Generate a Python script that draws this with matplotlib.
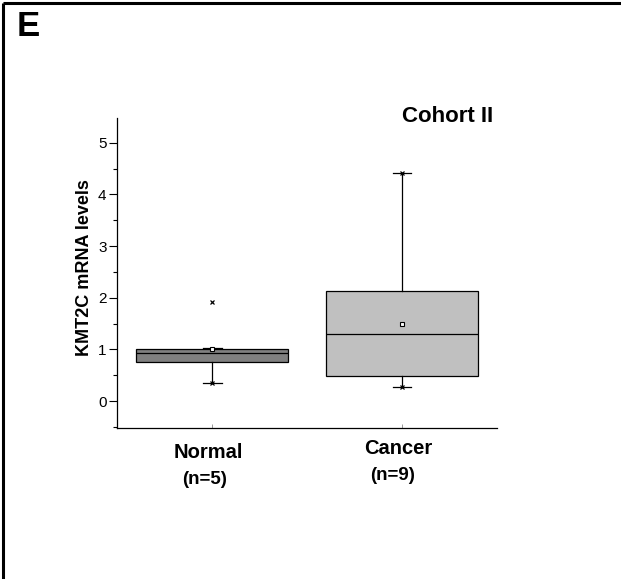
import matplotlib
matplotlib.use("Agg")
import matplotlib.pyplot as plt
from matplotlib.lines import Line2D
from matplotlib.ticker import MultipleLocator
import matplotlib.transforms as mtransforms

plt.rcParams['font.family'] = ['Liberation Sans', 'DejaVu Sans']

# Box-plot summary statistics for KMT2C mRNA levels
groups = ["Normal", "Cancer"]
group_n = ["(n=5)", "(n=9)"]
q1 = [0.75, 0.49]
median = [0.94, 1.30]
q3 = [1.01, 2.14]
whisker_low = [0.35, 0.28]
whisker_high = [1.02, 4.41]
means = [1.00, 1.50]
minima = [0.35, 0.28]
maxima = [1.91, 4.41]
box_colors = ["#808080", "#c0c0c0"]

fig = plt.figure(figsize=(6.21, 5.79), dpi=100)
ax = fig.add_axes([117 / 621, 151 / 579, 380 / 621, 310 / 579])

positions = [1, 2]
stats = []
for i in range(len(groups)):
    stats.append(dict(label=groups[i], q1=q1[i], med=median[i], q3=q3[i],
                      whislo=whisker_low[i], whishi=whisker_high[i],
                      mean=means[i], fliers=[]))

bp = ax.bxp(stats, positions=positions, widths=0.8, capwidths=0.1,
            patch_artist=True, showfliers=False, showmeans=True,
            boxprops=dict(linewidth=0.9, edgecolor="black"),
            medianprops=dict(color="black", linewidth=0.9),
            whiskerprops=dict(color="black", linewidth=0.9),
            capprops=dict(color="black", linewidth=0.9),
            meanprops=dict(marker="s", markersize=3.2, markerfacecolor="white",
                           markeredgecolor="black", markeredgewidth=0.8))
for patch, c in zip(bp["boxes"], box_colors):
    patch.set_facecolor(c)

# minimum / maximum markers
ax.plot(positions, minima, linestyle="none", marker="x", color="black",
        markersize=3.5, markeredgewidth=0.9)
ax.plot(positions, maxima, linestyle="none", marker="x", color="black",
        markersize=3.5, markeredgewidth=0.9)

ax.set_xlim(0.5, 2.5)
ax.set_ylim(-0.52, 5.48)
ax.yaxis.set_major_locator(MultipleLocator(1))
ax.yaxis.set_minor_locator(MultipleLocator(0.5))
ax.tick_params(axis="y", which="major", direction="out", length=6, width=0.8,
               labelsize=11, pad=1.5)
ax.tick_params(axis="y", which="minor", direction="out", length=3, width=0.8)
ax.set_xticks(positions)
ax.set_xticklabels([])
ax.tick_params(axis="x", which="major", direction="in", length=3, width=0.6,
               color="#888888")
for s in ("top", "right"):
    ax.spines[s].set_visible(False)
for s in ("left", "bottom"):
    ax.spines[s].set_linewidth(0.9)

ax.set_ylabel("KMT2C mRNA levels", fontsize=13, fontweight="bold")
ax.yaxis.set_label_coords(-0.062, 0.518)

# category labels below the axis
trans = mtransforms.blended_transform_factory(ax.transData, fig.transFigure)
name_x = [0.98, 1.98]
name_y = [(579 - 452) / 579, (579 - 448) / 579]
n_x = [0.96, 1.95]
n_y = [(579 - 479) / 579, (579 - 476) / 579]
for i in range(len(groups)):
    ax.text(name_x[i], name_y[i], groups[i], transform=trans, ha="center",
            va="center", fontsize=14.5, fontweight="bold")
    ax.text(n_x[i], n_y[i], group_n[i], transform=trans, ha="center",
            va="center", fontsize=13.5, fontweight="bold")

fig.text(493 / 621, (579 - 122) / 579, "Cohort II", ha="right", va="baseline",
         fontsize=16, fontweight="bold")
fig.text(17 / 621, (579 - 36) / 579, "E", ha="left", va="baseline",
         fontsize=25, fontweight="bold")

# panel frame (top and left edges)
fig.add_artist(Line2D([2.5 / 621, 1.0], [1 - 3 / 579, 1 - 3 / 579],
                      transform=fig.transFigure, color="black", linewidth=2.2,
                      solid_capstyle="butt"))
fig.add_artist(Line2D([2.5 / 621, 2.5 / 621], [0.0, 1 - 3 / 579],
                      transform=fig.transFigure, color="black", linewidth=2.2,
                      solid_capstyle="butt"))

fig.savefig("out.png", dpi=100)
